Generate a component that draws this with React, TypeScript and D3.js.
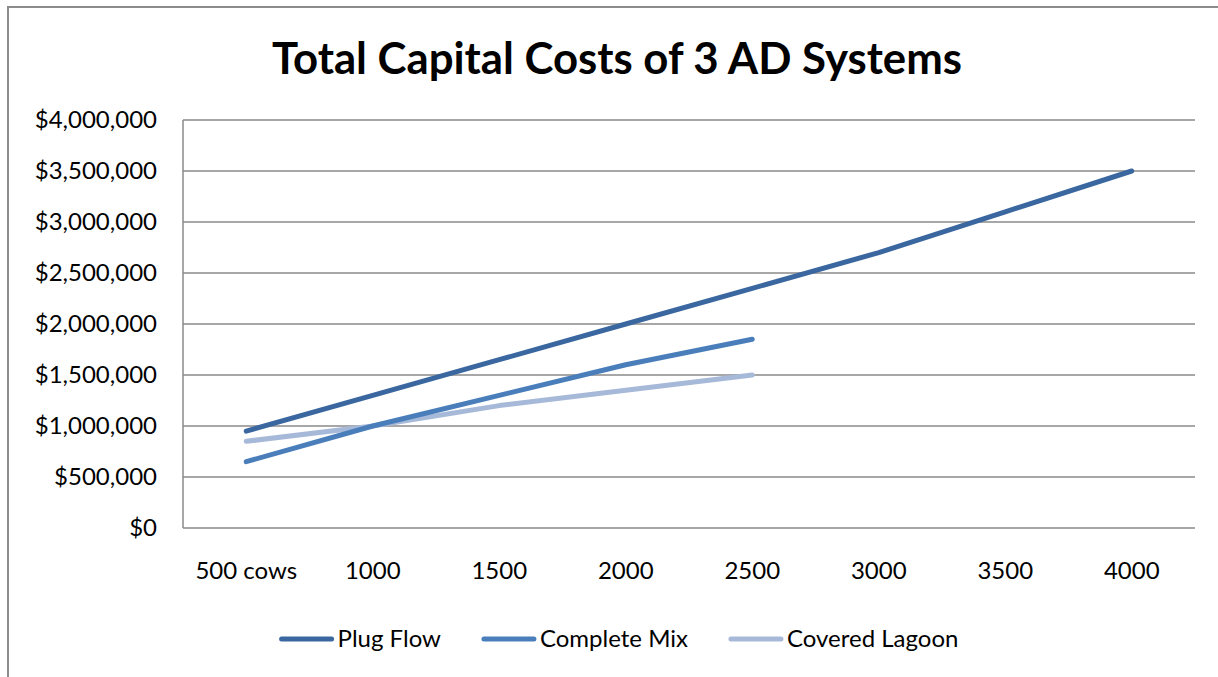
import React, { useRef, useEffect } from "react";
import * as d3 from "d3";

const categories = ["500 cows", "1000", "1500", "2000", "2500", "3000", "3500", "4000"];
const plugFlow = [950000, 1300000, 1650000, 2000000, 2350000, 2700000, 3100000, 3500000];
const completeMix = [650000, 1000000, 1300000, 1600000, 1850000];
const coveredLagoon = [850000, 1000000, 1200000, 1350000, 1500000];
const seriesNames = ["Plug Flow", "Complete Mix", "Covered Lagoon"];
const seriesColors = ["#3a679f", "#4a7ebb", "#a7b9d8"];
const yTicks = [0, 500000, 1000000, 1500000, 2000000, 2500000, 3000000, 3500000, 4000000];

const W = 1218;
const H = 677;
const plot = { left: 183, right: 1195, top: 120, bottom: 528 };
const font = "Lato, 'Open Sans', sans-serif";

const App = () => {
  const svgRef = useRef<SVGSVGElement>(null);

  useEffect(() => {
    const svg = d3.select(svgRef.current);
    svgRef.current!.querySelectorAll("*").forEach((n) => n.remove());

    // chart frame (cropped at right and bottom)
    svg.append("path")
      .attr("d", `M8,${H} V7 H${W}`)
      .attr("fill", "none")
      .attr("stroke", "#8c8c8c")
      .attr("stroke-width", 2);

    svg.append("text")
      .attr("x", 617)
      .attr("y", 74)
      .attr("text-anchor", "middle")
      .attr("font-family", font)
      .attr("font-weight", "bold")
      .attr("font-size", 43)
      .attr("textLength", 690)
      .attr("lengthAdjust", "spacingAndGlyphs")
      .attr("fill", "#000")
      .text("Total Capital Costs of 3 AD Systems");

    const x = d3.scaleBand()
      .domain(categories)
      .range([plot.left, plot.right]);

    const y = d3.scaleLinear()
      .domain([0, 4000000])
      .range([plot.bottom, plot.top]);

    // gridlines
    svg.append("g")
      .selectAll("line")
      .data(yTicks)
      .join("line")
      .attr("x1", plot.left)
      .attr("x2", plot.right)
      .attr("y1", (d) => y(d))
      .attr("y2", (d) => y(d))
      .attr("stroke", "#8a8a8a")
      .attr("stroke-width", 1.5);

    // y axis line
    svg.append("line")
      .attr("x1", plot.left)
      .attr("x2", plot.left)
      .attr("y1", plot.top)
      .attr("y2", plot.bottom)
      .attr("stroke", "#8a8a8a")
      .attr("stroke-width", 1.5);

    const fmt = d3.format("$,.0f");
    svg.append("g")
      .selectAll("text")
      .data(yTicks)
      .join("text")
      .attr("x", 157)
      .attr("y", (d) => y(d))
      .attr("dy", "0.35em")
      .attr("text-anchor", "end")
      .attr("font-family", font)
      .attr("font-size", 24)
      .attr("fill", "#000")
      .text((d) => fmt(d));

    svg.append("g")
      .selectAll("text")
      .data(categories)
      .join("text")
      .attr("x", (d) => x(d)! + x.bandwidth() / 2)
      .attr("y", 579)
      .attr("text-anchor", "middle")
      .attr("font-family", font)
      .attr("font-size", 24)
      .attr("fill", "#000")
      .text((d) => d);

    const allSeries = [plugFlow, completeMix, coveredLagoon];
    const line = d3.line<number>()
      .x((_, i) => x(categories[i])! + x.bandwidth() / 2)
      .y((d) => y(d));

    // draw lightest first so plug flow sits on top
    [2, 1, 0].forEach((k) => {
      svg.append("path")
        .datum(allSeries[k])
        .attr("d", line)
        .attr("fill", "none")
        .attr("stroke", seriesColors[k])
        .attr("stroke-width", 5)
        .attr("stroke-linecap", "round")
        .attr("stroke-linejoin", "round");
    });

    // legend
    const legend = svg.append("g");
    let cursor = 0;
    seriesNames.forEach((name, k) => {
      const item = legend.append("g").attr("transform", `translate(${cursor},0)`);
      item.append("line")
        .attr("x1", 2)
        .attr("x2", 52)
        .attr("y1", 0)
        .attr("y2", 0)
        .attr("stroke", seriesColors[k])
        .attr("stroke-width", 5)
        .attr("stroke-linecap", "round");
      const t = item.append("text")
        .attr("x", 58)
        .attr("y", 8)
        .attr("font-family", font)
        .attr("font-size", 24)
        .attr("fill", "#000")
        .text(name);
      const tw = (t.node() as SVGTextElement).getComputedTextLength();
      cursor += 58 + tw + 41;
    });
    const total = cursor - 41;
    legend.attr("transform", `translate(${619 - total / 2},639)`);
  }, []);

  return (
    <div>
      <svg
        ref={svgRef}
        width={W}
        height={H}
        style={{ position: "absolute", left: 0, top: 0, background: "#fff" }}
      />
    </div>
  );
};

export default App;
